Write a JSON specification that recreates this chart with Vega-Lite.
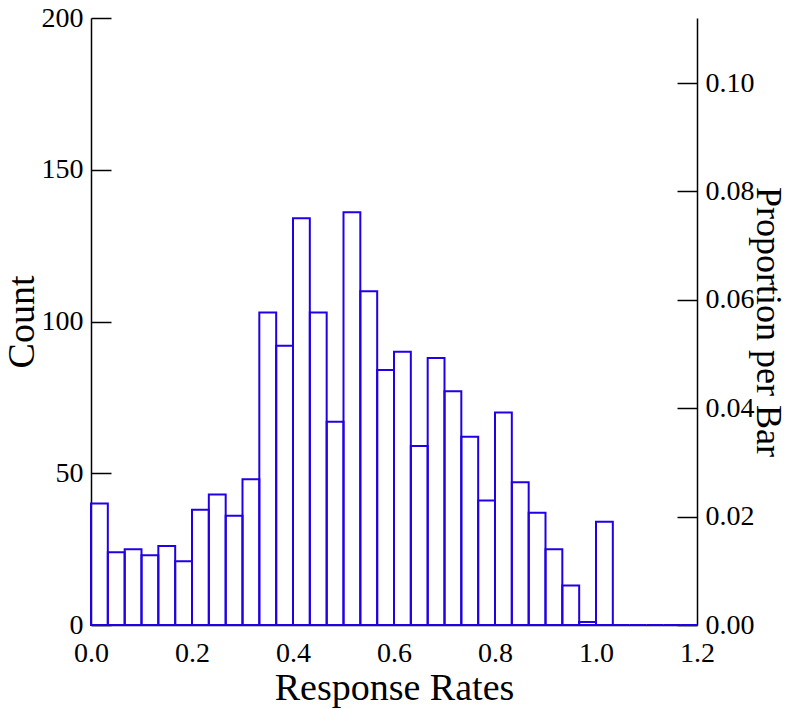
{
  "$schema": "https://vega.github.io/schema/vega-lite/v6.json",
  "autosize": "none",
  "width": 606,
  "height": 607,
  "padding": {"left": 91, "top": 18, "right": 93, "bottom": 84},
  "background": "white",
  "config": {
    "view": {"stroke": null},
    "font": "Liberation Serif",
    "axis": {
      "labelFont": "Liberation Serif",
      "titleFont": "Liberation Serif",
      "labelFontSize": 28,
      "titleFontSize": 38,
      "titleFontWeight": "normal",
      "labelColor": "black",
      "titleColor": "black",
      "domainColor": "black",
      "tickColor": "black",
      "domainWidth": 1.5,
      "tickWidth": 1.5,
      "grid": false,
      "labelOverlap": false,
      "labelFlush": false
    }
  },
  "data": {
    "values": [
      {"lo": 0.0, "hi": 0.0333, "count": 40},
      {"lo": 0.0333, "hi": 0.0667, "count": 24},
      {"lo": 0.0667, "hi": 0.1, "count": 25},
      {"lo": 0.1, "hi": 0.1333, "count": 23},
      {"lo": 0.1333, "hi": 0.1667, "count": 26},
      {"lo": 0.1667, "hi": 0.2, "count": 21},
      {"lo": 0.2, "hi": 0.2333, "count": 38},
      {"lo": 0.2333, "hi": 0.2667, "count": 43},
      {"lo": 0.2667, "hi": 0.3, "count": 36},
      {"lo": 0.3, "hi": 0.3333, "count": 48},
      {"lo": 0.3333, "hi": 0.3667, "count": 103},
      {"lo": 0.3667, "hi": 0.4, "count": 92},
      {"lo": 0.4, "hi": 0.4333, "count": 134},
      {"lo": 0.4333, "hi": 0.4667, "count": 103},
      {"lo": 0.4667, "hi": 0.5, "count": 67},
      {"lo": 0.5, "hi": 0.5333, "count": 136},
      {"lo": 0.5333, "hi": 0.5667, "count": 110},
      {"lo": 0.5667, "hi": 0.6, "count": 84},
      {"lo": 0.6, "hi": 0.6333, "count": 90},
      {"lo": 0.6333, "hi": 0.6667, "count": 59},
      {"lo": 0.6667, "hi": 0.7, "count": 88},
      {"lo": 0.7, "hi": 0.7333, "count": 77},
      {"lo": 0.7333, "hi": 0.7667, "count": 62},
      {"lo": 0.7667, "hi": 0.8, "count": 41},
      {"lo": 0.8, "hi": 0.8333, "count": 70},
      {"lo": 0.8333, "hi": 0.8667, "count": 47},
      {"lo": 0.8667, "hi": 0.9, "count": 37},
      {"lo": 0.9, "hi": 0.9333, "count": 25},
      {"lo": 0.9333, "hi": 0.9667, "count": 13},
      {"lo": 0.9667, "hi": 1.0, "count": 1},
      {"lo": 1.0, "hi": 1.0333, "count": 34},
      {"lo": 1.0333, "hi": 1.0667, "count": 0},
      {"lo": 1.0667, "hi": 1.1, "count": 0},
      {"lo": 1.1, "hi": 1.1333, "count": 0},
      {"lo": 1.1333, "hi": 1.1667, "count": 0},
      {"lo": 1.1667, "hi": 1.2, "count": 0}
    ]
  },
  "layer": [
    {
      "mark": {"type": "bar", "fill": "white", "fillOpacity": 0, "stroke": "#2000e6", "strokeWidth": 2},
      "encoding": {
        "x": {
          "field": "lo",
          "type": "quantitative",
          "scale": {"domain": [0, 1.2], "nice": false, "zero": false},
          "axis": {
            "title": "Response Rates",
            "values": [0, 0.2, 0.4, 0.6, 0.8, 1.0, 1.2],
            "format": ".1f",
            "ticks": false,
            "labelPadding": 14,
            "titlePadding": 2
          }
        },
        "x2": {"field": "hi"},
        "y": {
          "field": "count",
          "type": "quantitative",
          "scale": {"domain": [0, 200], "nice": false},
          "axis": {
            "title": "Count",
            "orient": "left",
            "values": [0, 50, 100, 150, 200],
            "tickSize": -20,
            "labelPadding": 28,
            "titlePadding": 0
          }
        },
        "y2": {"datum": 0}
      }
    },
    {
      "mark": {"type": "rule", "opacity": 0},
      "encoding": {
        "y": {
          "datum": 0,
          "type": "quantitative",
          "scale": {"domain": [0, 0.112], "nice": false},
          "axis": {
            "title": "Proportion per Bar",
            "titleFontSize": 36,
            "orient": "right",
            "values": [0, 0.02, 0.04, 0.06, 0.08, 0.1],
            "format": ".2f",
            "tickSize": -20,
            "labelPadding": 28,
            "titlePadding": -6
          }
        }
      }
    }
  ],
  "resolve": {"scale": {"y": "independent"}}
}
